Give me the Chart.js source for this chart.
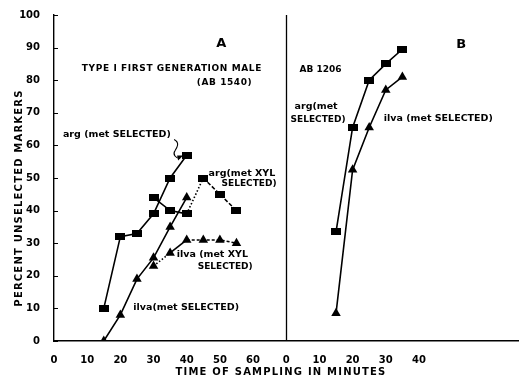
<!DOCTYPE html>
<html lang="en">
<head>
  <meta charset="UTF-8" />
  <title>Percent unselected markers vs time of sampling</title>
  <script src="https://cdn.jsdelivr.net/npm/chart.js"></script>
  <style>
    * { margin: 0; padding: 0; box-sizing: border-box; }
    body { background: #fff; width: 524px; height: 378px; overflow: hidden; }
    #wrap { position: relative; width: 524px; height: 378px; }
  </style>
</head>
<body>
  <div id="wrap"><canvas id="grafico"></canvas></div>

  <script>
    // panel A : Type I first generation male (AB 1540)
    const minutesA = [15, 20, 25, 30, 35, 40];
    const argMetA = [10, 32, 33, 39, 50, 57];
    const ilvaMetA = [0, 8, 19, 25.5, 35, 44];
    const minutesXylA = [30, 35, 40, 45, 50, 55];
    const argXylA = [44, 40, 39, 50, 45, 40];
    const ilvaXylA = [23, 27, 31, 31, 31, 30];

    // panel B : AB 1206
    const minutesB = [15, 20, 25, 30, 35];
    const argMetB = [33.5, 65.5, 80, 85, 89.5];
    const ilvaMetB = [8.5, 52.5, 65.5, 77, 81];

    const xTicksA = [0, 10, 20, 30, 40, 50, 60];
    const xTicksB = [0, 10, 20, 30, 40];
    const yTicks = [0, 10, 20, 30, 40, 50, 60, 70, 80, 90, 100];

    const offsetB = 70; // panel B's zero sits where panel A's scale reaches 70 min
    const FONT = '"DejaVu Sans", sans-serif';

    const pts = (xs, ys, off = 0) => xs.map((x, i) => ({ x: x + off, y: ys[i] }));

    // flat rectangle marker like the original
    const rectMark = document.createElement('canvas');
    rectMark.width = 10; rectMark.height = 7;
    const rc = rectMark.getContext('2d');
    rc.fillStyle = '#000';
    rc.fillRect(0, 0, 10, 7);

    const base = {
      borderColor: '#000',
      backgroundColor: '#000',
      borderWidth: 1.6,
      pointBorderWidth: 0,
      fill: false,
      tension: 0,
    };
    const sq = { pointStyle: rectMark, pointRadius: 5 };
    const tri = { pointStyle: 'triangle', pointRadius: 5.5 };

    const datasets = [
      { ...base, ...sq, label: 'arg (met SELECTED) A', data: pts(minutesA, argMetA) },
      { ...base, ...tri, label: 'ilva (met SELECTED) A', data: pts(minutesA, ilvaMetA) },
      {
        ...base, ...sq, label: 'arg (met XYL SELECTED) A', data: pts(minutesXylA, argXylA),
        segment: { borderDash: c => c.p0DataIndex < 2 ? [] : (c.p0DataIndex === 2 ? [1.5, 2] : [4, 2]) },
      },
      {
        ...base, ...tri, label: 'ilva (met XYL SELECTED) A', data: pts(minutesXylA, ilvaXylA),
        segment: { borderDash: c => c.p0DataIndex === 0 ? [1.5, 2] : (c.p0DataIndex === 1 ? [] : [3, 2]) },
      },
      { ...base, ...sq, label: 'arg (met SELECTED) B', data: pts(minutesB, argMetB, offsetB) },
      { ...base, ...tri, label: 'ilva (met SELECTED) B', data: pts(minutesB, ilvaMetB, offsetB) },
    ];

    // text on the plot, anchored in data units (minutes on the combined axis, percent)
    const notas = [
      { t: 'A', x: 50.4, y: 91.2, f: 'bold 13px', align: 'center' },
      { t: 'B', x: 122.7, y: 90.8, f: 'bold 13px', align: 'center' },
      { t: 'TYPE I FIRST GENERATION MALE', x: 8.4, y: 83.4, f: 'bold 9px', ls: '0.6px' },
      { t: '(AB 1540)', x: 43, y: 79.1, f: 'bold 9px', ls: '0.6px' },
      { t: 'arg (met SELECTED)', x: 2.7, y: 63.2, f: 'bold 9.5px' },
      { t: 'arg(met XYL', x: 46.6, y: 51.3, f: 'bold 9.5px' },
      { t: 'SELECTED)', x: 50.5, y: 48.2, f: 'bold 9px' },
      { t: 'ilva (met XYL', x: 37, y: 26.4, f: 'bold 9.5px' },
      { t: 'SELECTED)', x: 43.3, y: 22.7, f: 'bold 9px' },
      { t: 'ilva(met SELECTED)', x: 23.9, y: 10.4, f: 'bold 9.5px' },
      { t: 'AB 1206', x: 74, y: 83.1, f: 'bold 9px' },
      { t: 'arg(met', x: 72.5, y: 71.8, f: 'bold 9.5px' },
      { t: 'SELECTED)', x: 71.3, y: 67.8, f: 'bold 9px' },
      { t: 'ilva (met SELECTED)', x: 99.4, y: 68.1, f: 'bold 9.5px' },
    ];

    const decor = {
      id: 'decor',
      afterDraw(chart) {
        const { ctx, scales: { x, y } } = chart;
        ctx.save();
        ctx.strokeStyle = '#000';
        ctx.fillStyle = '#000';

        // inward ticks on the y axis
        ctx.lineWidth = 1;
        yTicks.forEach(v => {
          const py = Math.round(y.getPixelForValue(v)) + 0.5;
          ctx.beginPath();
          ctx.moveTo(x.left, py);
          ctx.lineTo(x.left + 4, py);
          ctx.stroke();
        });

        // divider between panels A and B
        const px = Math.round(x.getPixelForValue(offsetB)) + 0.5;
        ctx.lineWidth = 1.3;
        ctx.beginPath();
        ctx.moveTo(px, y.getPixelForValue(100));
        ctx.lineTo(px, y.bottom);
        ctx.stroke();

        // wavy pointer from the label to the 40 min point
        const ax = x.getPixelForValue(36.2), ay = y.getPixelForValue(61.8);
        ctx.lineWidth = 1.1;
        ctx.beginPath();
        ctx.moveTo(ax, ay);
        ctx.bezierCurveTo(ax + 6, ay + 3, ax + 3, ay + 8, ax + 1, ay + 11);
        ctx.bezierCurveTo(ax - 2, ay + 15, ax + 2, ay + 19, ax + 6, ay + 19);
        ctx.stroke();
        ctx.beginPath();
        ctx.moveTo(ax + 9, ay + 16);
        ctx.lineTo(ax + 4, ay + 21);
        ctx.lineTo(ax + 3, ay + 16);
        ctx.closePath();
        ctx.fill();

        // annotations
        ctx.textBaseline = 'middle';
        notas.forEach(n => {
          ctx.font = n.f + ' ' + FONT;
          ctx.letterSpacing = n.ls || '0px';
          ctx.textAlign = n.align || 'left';
          ctx.fillText(n.t, x.getPixelForValue(n.x), y.getPixelForValue(n.y));
        });

        // axis titles
        ctx.letterSpacing = '1.2px';
        ctx.font = 'bold 10px ' + FONT;
        ctx.textAlign = 'center';
        ctx.fillText('TIME OF SAMPLING IN MINUTES', 281, 372);
        ctx.translate(19, 198);
        ctx.rotate(-Math.PI / 2);
        ctx.fillText('PERCENT UNSELECTED MARKERS', 0, 0);
        ctx.restore();
      },
    };

    new Chart(document.getElementById('grafico'), {
      type: 'line',
      data: { datasets },
      plugins: [decor],
      options: {
        responsive: true,
        maintainAspectRatio: false,
        animation: false,
        events: [],
        layout: { padding: { top: 15, right: 1, left: 0, bottom: 0 } },
        plugins: { legend: { display: false }, tooltip: { enabled: false } },
        scales: {
          x: {
            type: 'linear',
            min: 0,
            max: 140,
            afterFit: s => { s.height = 37; },
            afterBuildTicks: s => {
              s.ticks = xTicksA.map(v => ({ value: v })).concat(xTicksB.map(v => ({ value: v + offsetB })));
            },
            grid: { display: false },
            border: { display: true, color: '#000', width: 1.6 },
            ticks: {
              color: '#000',
              padding: 5,
              maxRotation: 0,
              autoSkip: false,
              font: { family: FONT, size: 10, weight: 'bold' },
              callback: v => (v >= offsetB ? v - offsetB : v),
            },
          },
          y: {
            min: 0,
            max: 100,
            afterFit: s => { s.width = 54; },
            afterBuildTicks: s => { s.ticks = yTicks.map(v => ({ value: v })); },
            grid: { display: false },
            border: { display: true, color: '#000', width: 1.4 },
            ticks: {
              color: '#000',
              padding: 6,
              font: { family: FONT, size: 10, weight: 'bold' },
            },
          },
        },
      },
    });
  </script>
</body>
</html>
